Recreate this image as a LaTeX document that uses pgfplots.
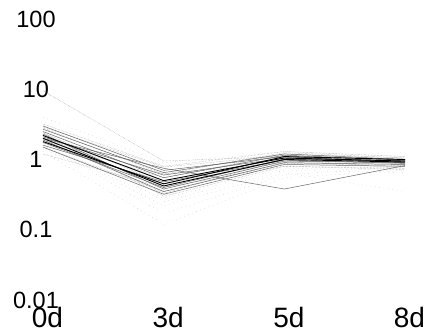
\documentclass[border=0pt]{standalone}
\usepackage{pgfplots}
\pgfplotsset{compat=1.18}
\usepackage{fontspec}
\setmainfont{Liberation Sans}
\begin{document}
\begin{tikzpicture}
\begin{axis}[
  at={(0pt,0pt)}, anchor=south west,
  scale only axis, width=362pt, height=281pt,
  xmin=0, xmax=3, ymin=0.01, ymax=100,
  ymode=log,
  axis line style={draw=none},
  major tick style={draw=none}, minor tick style={draw=none},
  xtick={0,1,2,3}, xticklabels={0d,3d,5d,8d},
  ytick={0.01,0.1,1,10,100}, yticklabels={0.01,0.1,1,10,100},
  yminorticks=false,
  xticklabel style={font=\fontsize{28}{28}\selectfont, anchor=base, yshift=-28pt, xshift=4.5pt},
  yticklabel style={font=\fontsize{23.5}{23.5}\selectfont, anchor=center, inner sep=0pt, xshift=-7pt},
  clip=false,
  vl/.style={black!30, line width=0.4pt, loosely dotted},
  lt/.style={black!40, line width=0.45pt, densely dotted},
  md/.style={black!60, line width=0.5pt},
  dk/.style={black, line width=0.9pt},
]
% very light
\addplot[lt] coordinates {(0,9.5) (1,0.95) (2,1.1) (3,0.95)};
\addplot[vl] coordinates {(0,1.3) (1,0.12) (2,0.55) (3,0.7)};
\addplot[vl] coordinates {(0,1.7) (1,0.17) (2,0.6) (3,0.8)};
\addplot[vl] coordinates {(0,1.6) (1,0.22) (2,0.65) (3,0.35)};
\addplot[vl] coordinates {(0,4.0) (1,0.9) (2,1.3) (3,1.1)};
\addplot[vl] coordinates {(0,2.6) (1,0.25) (2,0.7) (3,0.65)};
\addplot[vl] coordinates {(0,1.4) (1,0.28) (2,0.75) (3,0.7)};
% light
\addplot[lt] coordinates {(0,2.8) (1,0.62) (2,1.25) (3,1.05)};
\addplot[lt] coordinates {(0,3.2) (1,0.8) (2,1.3) (3,1.1)};
\addplot[lt] coordinates {(0,2.4) (1,0.30) (2,0.8) (3,0.75)};
\addplot[lt] coordinates {(0,2.2) (1,0.33) (2,1.0) (3,0.75)};
\addplot[lt] coordinates {(0,1.9) (1,0.55) (2,1.2) (3,1.05)};
\addplot[lt] coordinates {(0,2.4) (1,0.45) (2,0.92) (3,1.0)};
\addplot[lt] coordinates {(0,2.0) (1,0.62) (2,0.9) (3,0.85)};
\addplot[lt] coordinates {(0,1.2) (1,0.40) (2,0.8) (3,0.72)};
\addplot[lt] coordinates {(0,2.9) (1,0.78) (2,1.15) (3,0.9)};
\addplot[lt] coordinates {(0,1.5) (1,0.35) (2,0.88) (3,0.82)};
% medium
\addplot[md] coordinates {(0,2.0) (1,0.75) (2,0.38) (3,0.82)};
\addplot[md] coordinates {(0,2.5) (1,0.55) (2,1.15) (3,0.98)};
\addplot[md] coordinates {(0,2.3) (1,0.38) (2,0.95) (3,0.9)};
\addplot[md] coordinates {(0,1.9) (1,0.35) (2,0.9) (3,0.85)};
\addplot[md] coordinates {(0,2.7) (1,0.65) (2,1.2) (3,1.0)};
\addplot[md] coordinates {(0,1.6) (1,0.48) (2,0.98) (3,0.88)};
\addplot[md] coordinates {(0,2.1) (1,0.60) (2,1.05) (3,0.93)};
\addplot[md] coordinates {(0,1.5) (1,0.32) (2,0.85) (3,0.8)};
\addplot[md] coordinates {(0,3.0) (1,0.70) (2,1.1) (3,0.9)};
\addplot[md] coordinates {(0,1.75) (1,0.40) (2,1.02) (3,0.97)};
% dark
\addplot[dk] coordinates {(0,2.2) (1,0.50) (2,1.05) (3,0.95)};
\addplot[dk] coordinates {(0,2.0) (1,0.42) (2,1.0) (3,0.92)};
\addplot[dk] coordinates {(0,1.8) (1,0.45) (2,1.1) (3,1.0)};
\end{axis}
\pgfresetboundingbox
\path (-43pt,-34pt) rectangle (383pt,300pt);
\end{tikzpicture}
\end{document}
